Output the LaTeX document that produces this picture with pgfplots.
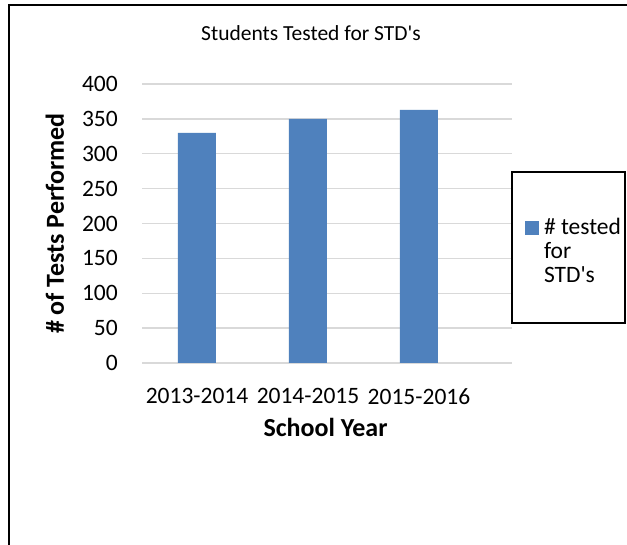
\documentclass[border=0pt]{standalone}
\usepackage{pgfplots}
\pgfplotsset{compat=1.18}
\usepackage{fontspec}
\setmainfont{Carlito}
\definecolor{barblue}{HTML}{4F81BD}
\definecolor{gridgray}{HTML}{D9D9D9}
\begin{document}
\begin{tikzpicture}
\useasboundingbox (0,0) rectangle (627bp,545bp);
\fill[white] (0,0) rectangle (627bp,545bp);
\draw[black, line width=2bp] (8.5bp,-2bp) -- (8.5bp,539.5bp) -- (630bp,539.5bp);
\begin{axis}[
  at={(142bp,182bp)}, anchor=south west,
  scale only axis,
  width=370bp, height=279bp,
  xmin=-0.4955, xmax=2.838,
  ymin=0, ymax=400,
  ytick={0,50,...,400},
  xtick={0,1,2},
  xticklabels={2013-2014,2014-2015,2015-2016},
  ybar, bar width=38bp,
  axis line style={draw=none},
  major tick length=0pt,
  ymajorgrids,
  grid style={gridgray, line width=1.3bp},
  /pgf/number format/assume math mode=true,
  tick label style={font=\fontsize{23.5bp}{28bp}\selectfont, inner sep=0pt},
  yticklabel style={anchor=east, xshift=-24bp},
  xticklabel style={anchor=north, yshift=-25bp},
  title={Students Tested for STD\textquotesingle s},
  title style={font=\fontsize{21.5bp}{26bp}\selectfont, at={(axis description cs:0.4568,1.1362)}, anchor=base, inner sep=0pt},
  xlabel={School Year},
  ylabel={\# of Tests Performed},
  xlabel style={font=\bfseries\fontsize{26bp}{30bp}\selectfont, at={(axis description cs:0.496,-0.2652)}, anchor=base, inner sep=0pt},
  ylabel style={font=\bfseries\fontsize{26bp}{30bp}\selectfont, at={(axis description cs:-0.2114,0.5)}, anchor=base, inner sep=0pt},
  legend style={draw=none, fill=none, inner sep=0pt, outer sep=0pt,
    at={(rel axis cs:1,0.5197)}, anchor=north west, xshift=13bp,
    font=\fontsize{23.5bp}{24bp}\selectfont,
    nodes={inner sep=0pt},
    cells={anchor=base west},
    /tikz/every odd column/.append style={column sep=5bp}},
]
\addplot[fill=barblue, draw=none,
  legend image code/.code={\fill[barblue] (0bp,0bp) rectangle (14bp,14bp);}]
  coordinates {(0,330) (1,350) (2,363)};
\addlegendentry{\begin{tabular}[t]{@{}l@{}}\# tested\\for\\STD\textquotesingle s\end{tabular}}
\end{axis}
\draw[black, line width=1.5bp] (512bp,222bp) rectangle (625bp,373bp);
\end{tikzpicture}
\end{document}
